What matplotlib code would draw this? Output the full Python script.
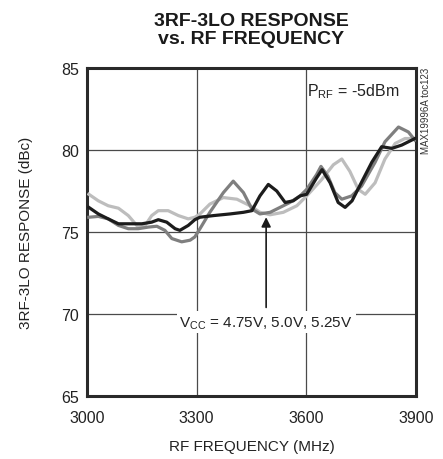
import matplotlib
matplotlib.use("Agg")
import matplotlib.pyplot as plt

plt.rcParams['font.family'] = ['Liberation Sans', 'DejaVu Sans']

# VCC = 4.75V, 5.0V, 5.25V traces
freq_black = [3005, 3031, 3058, 3086, 3113, 3150, 3177, 3195, 3218, 3241, 3254, 3277,
              3295, 3309, 3346, 3391, 3428, 3451, 3473, 3496, 3519, 3542, 3564, 3583,
              3601, 3628, 3643, 3665, 3687, 3706, 3725, 3741, 3779, 3806, 3834, 3861,
              3888, 3897]
resp_black = [76.5, 76.1, 75.8, 75.5, 75.5, 75.5, 75.6, 75.75, 75.6, 75.2, 75.1, 75.4,
              75.75, 75.9, 76.0, 76.1, 76.2, 76.3, 77.2, 77.9, 77.5, 76.8, 76.9, 77.2,
              77.3, 78.3, 78.8, 78.0, 76.8, 76.5, 76.9, 77.6, 79.25, 80.2, 80.1, 80.3,
              80.6, 80.7]

freq_dark = [3005, 3031, 3058, 3086, 3113, 3140, 3168, 3191, 3213, 3232, 3259, 3282,
             3295, 3309, 3336, 3373, 3400, 3428, 3451, 3473, 3501, 3528, 3555, 3583,
             3601, 3628, 3640, 3659, 3678, 3697, 3724, 3751, 3788, 3815, 3852, 3879,
             3897]
resp_dark = [75.9, 75.95, 75.8, 75.4, 75.2, 75.2, 75.3, 75.35, 75.1, 74.6, 74.4, 74.5,
             74.7, 75.2, 76.2, 77.4, 78.1, 77.4, 76.4, 76.1, 76.2, 76.5, 76.8, 77.2,
             77.6, 78.5, 79.0, 78.4, 77.4, 77.0, 77.2, 77.8, 79.25, 80.5, 81.4, 81.1,
             80.6]

freq_light = [3005, 3031, 3058, 3086, 3113, 3140, 3159, 3177, 3195, 3222, 3250, 3277,
              3295, 3309, 3336, 3373, 3410, 3446, 3473, 3501, 3537, 3574, 3601, 3642,
              3674, 3697, 3719, 3742, 3761, 3788, 3815, 3843, 3870, 3897]
resp_light = [77.3, 76.9, 76.6, 76.45, 76.0, 75.3, 75.4, 76.0, 76.3, 76.3, 76.0, 75.8,
              75.9, 76.1, 76.7, 77.1, 77.0, 76.6, 76.2, 76.05, 76.2, 76.6, 77.2, 78.2,
              79.1, 79.45, 78.7, 77.6, 77.3, 78.0, 79.45, 80.4, 80.7, 80.7]

x_ticks = [3000, 3300, 3600, 3900]
y_ticks = [65, 70, 75, 80, 85]

fig = plt.figure(figsize=(4.43, 4.60), dpi=100)
ax = fig.add_axes([0.1964, 0.137, 0.7427, 0.713])

ax.plot(freq_light, resp_light, color="#bdbdbd", lw=2.3, zorder=3)
ax.plot(freq_dark, resp_dark, color="#7f7f7f", lw=2.3, zorder=4)
ax.plot(freq_black, resp_black, color="#1c1c1c", lw=2.3, zorder=5)

ax.set_xlim(3000, 3900)
ax.set_ylim(65, 85)
ax.set_xticks(x_ticks)
ax.set_yticks(y_ticks)
ax.grid(True, color="#4a4a4a", lw=0.9)
ax.tick_params(length=0, labelsize=11.5, colors="#222222")
ax.tick_params(axis="x", pad=10)
ax.tick_params(axis="y", pad=6)
for s in ax.spines.values():
    s.set_linewidth(2.2)
    s.set_color("#2a2a2a")

ax.set_xlabel("RF FREQUENCY (MHz)", fontsize=11, color="#222222", labelpad=10)
ax.set_ylabel("3RF-3LO RESPONSE (dBc)", fontsize=11, color="#222222", labelpad=20)
ax.set_title("3RF-3LO RESPONSE\nvs. RF FREQUENCY", fontsize=14, fontweight="bold",
             linespacing=1.1, pad=18, color="#1a1a1a")

ax.text(3856, 83.6, r"P$_{\mathregular{RF}}$ = -5dBm", fontsize=11.5, ha="right",
        va="center", color="#222222")

ax.annotate("", xy=(3490, 75.9), xytext=(3490, 70.4),
            arrowprops=dict(arrowstyle="-|>", color="#1a1a1a", lw=1.2,
                            mutation_scale=14, shrinkA=0, shrinkB=0), zorder=6)
ax.text(3490, 69.5, r"V$_{\mathregular{CC}}$ = 4.75V, 5.0V, 5.25V", fontsize=11,
        ha="center", va="center", color="#222222", zorder=7,
        bbox=dict(facecolor="white", edgecolor="none", pad=2))

fig.text(0.962, 0.852, "MAX19996A toc123", rotation=90, fontsize=7, ha="center",
         va="top", color="#333333")

fig.savefig("out.png", dpi=100)
